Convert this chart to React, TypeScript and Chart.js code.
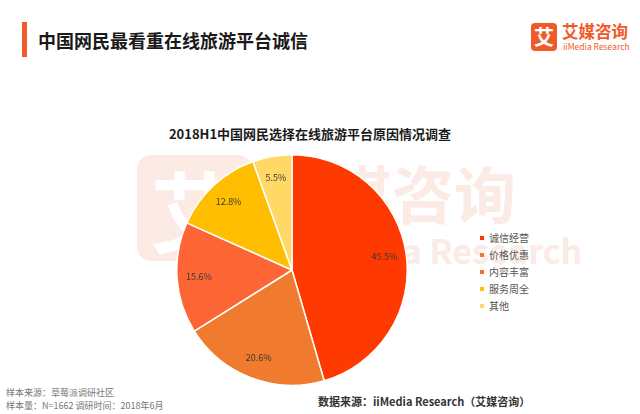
import React, { useEffect, useRef } from "react";
import { Chart, registerables } from "chart.js";

Chart.register(...registerables);

const categories = ["诚信经营", "价格优惠", "内容丰富", "服务周全", "其他"];
const values = [45.5, 20.6, 15.6, 12.8, 5.5];
const colors = ["#FF3A00", "#F07A2E", "#FD6535", "#FFBF00", "#FFD865"];

const FONT = "'Noto Sans CJK SC', 'Noto Sans', sans-serif";

const labelPlugin = {
  id: "sliceLabels",
  afterDatasetsDraw(chart: any) {
    const { ctx } = chart;
    const meta = chart.getDatasetMeta(0);
    ctx.save();
    ctx.font = `9px ${FONT}`;
    ctx.fillStyle = "#3a3a3a";
    ctx.textAlign = "center";
    ctx.textBaseline = "middle";
    meta.data.forEach((arc: any, i: number) => {
      const mid = (arc.startAngle + arc.endAngle) / 2;
      const r = arc.outerRadius * 0.81;
      const x = arc.x + Math.cos(mid) * r;
      const y = arc.y + Math.sin(mid) * r;
      ctx.fillText(values[i].toFixed(1) + "%", x, y);
    });
    ctx.restore();
  },
};

function PieChart() {
  const ref = useRef<HTMLCanvasElement>(null);
  useEffect(() => {
    if (!ref.current) return;
    const chart = new Chart(ref.current, {
      type: "pie",
      data: {
        labels: categories,
        datasets: [
          {
            data: values,
            backgroundColor: colors,
            borderColor: "#ffffff",
            borderWidth: 1.5,
          },
        ],
      },
      options: {
        animation: false,
        responsive: false,
        maintainAspectRatio: false,
        layout: { padding: 0 },
        plugins: {
          legend: { display: false },
          tooltip: { enabled: false },
        },
      },
      plugins: [labelPlugin],
    });
    return () => chart.destroy();
  }, []);
  return (
    <canvas
      ref={ref}
      width={232}
      height={232}
      style={{ position: "absolute", left: 176, top: 154, width: 232, height: 232 }}
    />
  );
}

export default function App() {
  return (
    <div
      style={{
        position: "absolute",
        left: 0,
        top: 0,
        width: 640,
        height: 414,
        background: "#ffffff",
        overflow: "hidden",
        fontFamily: FONT,
      }}
    >
      {/* header bar */}
      <div style={{ position: "absolute", left: 22, top: 22, width: 5, height: 35, background: "#F05A28" }} />
      <div
        style={{
          position: "absolute",
          left: 38,
          top: 27,
          fontSize: 18,
          fontWeight: 700,
          color: "#1a1a1a",
          lineHeight: "26px",
          whiteSpace: "nowrap",
        }}
      >
        中国网民最看重在线旅游平台诚信
      </div>
      {/* logo */}
      <div
        style={{
          position: "absolute",
          left: 531,
          top: 23,
          width: 26,
          height: 28,
          background: "#F05A28",
          borderRadius: 4,
          color: "#fff",
          fontSize: 20,
          fontWeight: 700,
          lineHeight: "28px",
          textAlign: "center",
        }}
      >
        艾
      </div>
      <div style={{ position: "absolute", left: 562, top: 21, fontSize: 16.5, fontWeight: 700, color: "#F05A28", lineHeight: "20px", whiteSpace: "nowrap" }}>
        艾媒咨询
      </div>
      <div style={{ position: "absolute", left: 563, top: 41, fontSize: 8.5, color: "#F05A28", lineHeight: "10px", whiteSpace: "nowrap" }}>
        iiMedia Research
      </div>

      {/* watermark */}
      <div
        style={{
          position: "absolute",
          left: 137,
          top: 155,
          width: 115,
          height: 106,
          background: "#FCEAE4",
          borderRadius: 14,
          color: "#ffffff",
          fontSize: 88,
          fontWeight: 700,
          lineHeight: "106px",
          textAlign: "center",
        }}
      >
        艾
      </div>
      <div style={{ position: "absolute", left: 330, top: 152, fontSize: 62, fontWeight: 700, color: "#FCEAE4", lineHeight: "80px", whiteSpace: "nowrap" }}>
        媒咨询
      </div>
      <div style={{ position: "absolute", left: 300, top: 230, fontSize: 34, fontWeight: 700, color: "#FCEAE4", lineHeight: "40px", whiteSpace: "nowrap" }}>
        iiMedia Research
      </div>

      {/* chart title */}
      <div
        style={{
          position: "absolute",
          left: 0,
          width: 620,
          top: 125,
          textAlign: "center",
          fontSize: 13,
          fontWeight: 700,
          color: "#1a1a1a",
          lineHeight: "18px",
        }}
      >
        2018H1中国网民选择在线旅游平台原因情况调查
      </div>

      <PieChart />

      {/* legend */}
      <div style={{ position: "absolute", left: 480, top: 229 }}>
        {categories.map((c, i) => (
          <div key={c} style={{ display: "flex", alignItems: "center", height: 17 }}>
            <div style={{ width: 4, height: 4, background: colors[i], marginRight: 5 }} />
            <span style={{ fontSize: 10, color: "#555555", lineHeight: "17px", whiteSpace: "nowrap" }}>{c}</span>
          </div>
        ))}
      </div>

      {/* footer */}
      <div style={{ position: "absolute", left: 6, top: 386, fontSize: 9, color: "#777", lineHeight: "13px", whiteSpace: "nowrap" }}>
        样本来源：草莓派调研社区
        <br />
        样本量：N=1662 调研时间：2018年6月
      </div>
      <div style={{ position: "absolute", left: 318, top: 393, fontSize: 11, fontWeight: 700, color: "#333", lineHeight: "16px", whiteSpace: "nowrap" }}>
        数据来源：iiMedia Research（艾媒咨询）
      </div>
    </div>
  );
}
